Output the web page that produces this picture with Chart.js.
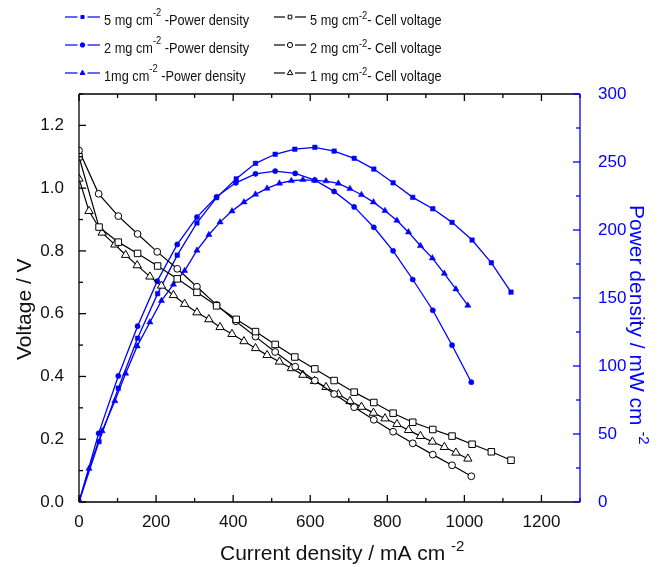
<!DOCTYPE html>
<html>
<head>
<meta charset="utf-8">
<script src="https://cdn.jsdelivr.net/npm/chart.js@4.4.1/dist/chart.umd.min.js"></script>
<style>
  body { margin: 0; background: #fff; }
  #wrap { width: 662px; height: 567px; }
</style>
</head>
<body>
<div id="wrap"><canvas id="fuelCellChart" width="662" height="567"></canvas></div>
<script>
// current density (mA cm-2) for each catalyst loading
const current5 = [0, 52, 102, 152, 204, 255, 306, 357, 408, 458, 509, 560, 612, 662, 714, 765, 815, 866, 918, 968, 1020, 1070, 1121];
const current2 = [0, 51, 102, 152, 203, 255, 306, 357, 407, 458, 509, 561, 612, 662, 714, 765, 815, 866, 918, 968, 1018];
const current1 = [0, 26, 60, 93, 121, 151, 184, 214, 245, 274, 306, 337, 366, 397, 428, 458, 488, 520, 551, 581, 611, 641, 673, 703, 733, 764, 794, 825, 855, 886, 917, 948, 978, 1009];

// cell voltage (V)
const voltage5 = [1.10, 0.876, 0.828, 0.792, 0.752, 0.711, 0.668, 0.625, 0.582, 0.543, 0.502, 0.462, 0.424, 0.387, 0.350, 0.317, 0.283, 0.254, 0.231, 0.210, 0.184, 0.160, 0.133];
const voltage2 = [1.12, 0.982, 0.911, 0.854, 0.797, 0.743, 0.686, 0.628, 0.576, 0.527, 0.478, 0.431, 0.387, 0.344, 0.302, 0.262, 0.224, 0.187, 0.151, 0.117, 0.082];
const voltage1 = [1.03, 0.927, 0.858, 0.82, 0.787, 0.754, 0.718, 0.689, 0.659, 0.631, 0.604, 0.582, 0.557, 0.535, 0.512, 0.49, 0.468, 0.447, 0.426, 0.405, 0.385, 0.366, 0.343, 0.321, 0.303, 0.284, 0.266, 0.248, 0.229, 0.21, 0.192, 0.175, 0.157, 0.138];

// power density (mW cm-2)
const power5 = [0, 44.4, 83.7, 120.4, 153.2, 181.5, 205.2, 223.8, 237.6, 249, 255.7, 259.4, 260.8, 258, 252.7, 244.8, 234.7, 224, 215.6, 205.6, 192.6, 175.9, 154.3];
const power2 = [0, 50.5, 92.7, 129.3, 162.4, 189.4, 209.5, 224.4, 234.7, 241.3, 243.3, 241.6, 236.7, 228.4, 217, 202, 184.7, 163.6, 141, 115.3, 88.1];
const power1 = [0, 24.6, 52.2, 74.3, 94.5, 114.6, 132.2, 148, 160, 170, 185, 196.5, 205.8, 213.9, 220.5, 226.2, 230.6, 234.3, 236.2, 236.9, 236.5, 236, 234.3, 230.3, 225.9, 220.5, 214.1, 207, 198.4, 188.4, 179.3, 168, 156.5, 144.5];

const BLUE = '#0000ff';
const FONT = '"Liberation Sans", Arial, sans-serif';

const toPoints = (xs, ys) => xs.map((x, i) => ({ x: x, y: ys[i] }));

function voltageSet(label, xs, ys, style, radius) {
  return {
    label: label, data: toPoints(xs, ys), yAxisID: 'y',
    borderColor: '#000', backgroundColor: '#fff', borderWidth: 1.2,
    pointStyle: style, pointRadius: radius, pointBorderWidth: 1,
    pointBackgroundColor: '#fff', pointBorderColor: '#000'
  };
}

function powerSet(label, xs, ys, style, radius) {
  return {
    label: label, data: toPoints(xs, ys), yAxisID: 'y1',
    borderColor: BLUE, backgroundColor: BLUE, borderWidth: 1.3,
    pointStyle: style, pointRadius: radius, pointBorderWidth: 0.5,
    pointBackgroundColor: BLUE, pointBorderColor: BLUE
  };
}

// legend rows: text parts (0 = normal, 1/2 = superscript), column, row, marker
const legendItems = [
  { parts: [['5 mg cm', 0], ['-2', 1], [' -Power density', 0]], col: 0, row: 0, style: 'rect' },
  { parts: [['2 mg cm', 0], ['-2', 1], [' -Power density', 0]], col: 0, row: 1, style: 'circle' },
  { parts: [['1mg cm', 0], ['-2', 1], [' -Power density', 0]], col: 0, row: 2, style: 'triangle' },
  { parts: [['5 mg cm', 0], ['-2', 2], ['- Cell voltage', 0]], col: 1, row: 0, style: 'rect' },
  { parts: [['2 mg cm', 0], ['-2', 2], ['- Cell voltage', 0]], col: 1, row: 1, style: 'circle' },
  { parts: [['1 mg cm', 0], ['-2', 2], ['- Cell voltage', 0]], col: 1, row: 2, style: 'triangle' }
];

function drawRich(ctx, parts, size, sx) {
  ctx.save();
  ctx.scale(sx, 1);
  let cx = 0;
  parts.forEach(([t, sup]) => {
    const fs = sup ? Math.round(size * 0.72) : size;
    ctx.font = fs + 'px ' + FONT;
    const dy = sup === 1 ? -size * 0.58 : (sup === 2 ? -size * 0.42 : 0);
    ctx.fillText(t, cx, dy);
    cx += ctx.measureText(t).width;
  });
  ctx.restore();
}

const decorations = {
  id: 'decorations',
  afterDraw(chart) {
    const { ctx, chartArea: a, scales } = chart;
    const sx = scales.x, sy = scales.y, sr = scales.y1;
    const seg = (x1, y1, x2, y2) => { ctx.beginPath(); ctx.moveTo(x1, y1); ctx.lineTo(x2, y2); ctx.stroke(); };
    ctx.save();
    ctx.lineWidth = 1.3;
    ctx.strokeStyle = '#000';
    seg(a.left, a.top, a.left, a.bottom);
    seg(a.left, a.bottom, a.right, a.bottom);
    seg(a.left, a.top, a.right, a.top);
    // inward ticks, bottom + top
    for (let v = 0; v <= 1300; v += 100) {
      const px = sx.getPixelForValue(v);
      const len = v % 200 === 0 ? 7 : 4;
      seg(px, a.bottom, px, a.bottom - len);
      seg(px, a.top, px, a.top + len);
    }
    // left ticks
    for (let i = 0; i <= 13; i++) {
      const py = sy.getPixelForValue(i / 10);
      seg(a.left, py, a.left + (i % 2 === 0 ? 7 : 4), py);
    }
    // right axis (blue)
    ctx.strokeStyle = BLUE;
    seg(a.right, a.top, a.right, a.bottom);
    for (let v = 0; v <= 300; v += 25) {
      const py = sr.getPixelForValue(v);
      seg(a.right, py, a.right - (v % 50 === 0 ? 7 : 4), py);
    }

    // axis titles
    ctx.fillStyle = '#111';
    ctx.textBaseline = 'alphabetic';
    ctx.textAlign = 'left';
    ctx.save();
    ctx.translate(220, 560);
    drawRich(ctx, [['Current density / mA cm ', 0], ['-2', 2]], 21, 1);
    ctx.restore();

    ctx.save();
    ctx.translate(31, 360);
    ctx.rotate(-Math.PI / 2);
    drawRich(ctx, [['Voltage / V', 0]], 21, 1);
    ctx.restore();

    ctx.save();
    ctx.fillStyle = BLUE;
    ctx.translate(630, 205);
    ctx.rotate(Math.PI / 2);
    drawRich(ctx, [['Power density / mW cm ', 0], ['-2', 2]], 21, 1);
    ctx.restore();

    // legend
    const colX = [65, 274], colW = [35, 32];
    legendItems.forEach(item => {
      const x0 = colX[item.col], w = colW[item.col];
      const base = 25 + item.row * 28;
      const ly = base - 8;
      const power = item.col === 0;
      ctx.strokeStyle = power ? BLUE : '#000';
      ctx.lineWidth = 1.2;
      const mid = x0 + w / 2;
      seg(x0, ly, mid - 5, ly);
      seg(mid + 5, ly, x0 + w, ly);
      ctx.fillStyle = power ? BLUE : '#fff';
      ctx.lineWidth = 1;
      Chart.helpers.drawPoint(ctx, {
        pointStyle: item.style, rotation: 0,
        radius: power ? (item.style === 'triangle' ? 2.8 : 2.2) : (item.style === 'triangle' ? 3.2 : 2.6),
        borderWidth: 1
      }, mid, ly);
      ctx.fillStyle = '#111';
      ctx.save();
      ctx.translate(x0 + w + 4, base);
      drawRich(ctx, item.parts, 15, 0.85);
      ctx.restore();
    });
    ctx.restore();
  }
};

const tickFont = { family: FONT, size: 17 };

new Chart(document.getElementById('fuelCellChart').getContext('2d'), {
  type: 'line',
  data: {
    datasets: [
      voltageSet('5 mg cm-2 - Cell voltage', current5, voltage5, 'rect', 4.6),
      voltageSet('2 mg cm-2 - Cell voltage', current2, voltage2, 'circle', 3.4),
      voltageSet('1 mg cm-2 - Cell voltage', current1, voltage1, 'triangle', 4.8),
      powerSet('5 mg cm-2 -Power density', current5, power5, 'rect', 3.2),
      powerSet('2 mg cm-2 -Power density', current2, power2, 'circle', 2.6),
      powerSet('1mg cm-2 -Power density', current1, power1, 'triangle', 3.6)
    ]
  },
  options: {
    responsive: false,
    animation: false,
    devicePixelRatio: 1,
    layout: { padding: { top: 94, left: 0, right: 0, bottom: 0 } },
    elements: { line: { tension: 0, fill: false } },
    plugins: { legend: { display: false }, tooltip: { enabled: false } },
    scales: {
      x: {
        type: 'linear', min: 0, max: 1300,
        grid: { display: false }, border: { display: false },
        ticks: { stepSize: 200, includeBounds: false, maxRotation: 0, padding: 2, font: tickFont, color: '#111',
          callback: v => String(v) },
        afterFit(s) { s.height = 65; }
      },
      y: {
        type: 'linear', position: 'left', min: 0, max: 1.3,
        grid: { display: false }, border: { display: false },
        ticks: { stepSize: 0.2, includeBounds: false, padding: 7, font: tickFont, color: '#111',
          callback: v => v.toFixed(1) },
        afterFit(s) { s.width = 79; }
      },
      y1: {
        type: 'linear', position: 'right', min: 0, max: 300,
        grid: { display: false }, border: { display: false },
        ticks: { stepSize: 50, padding: 10, font: tickFont, color: BLUE },
        afterFit(s) { s.width = 82; }
      }
    }
  },
  plugins: [decorations]
});
</script>
</body>
</html>
